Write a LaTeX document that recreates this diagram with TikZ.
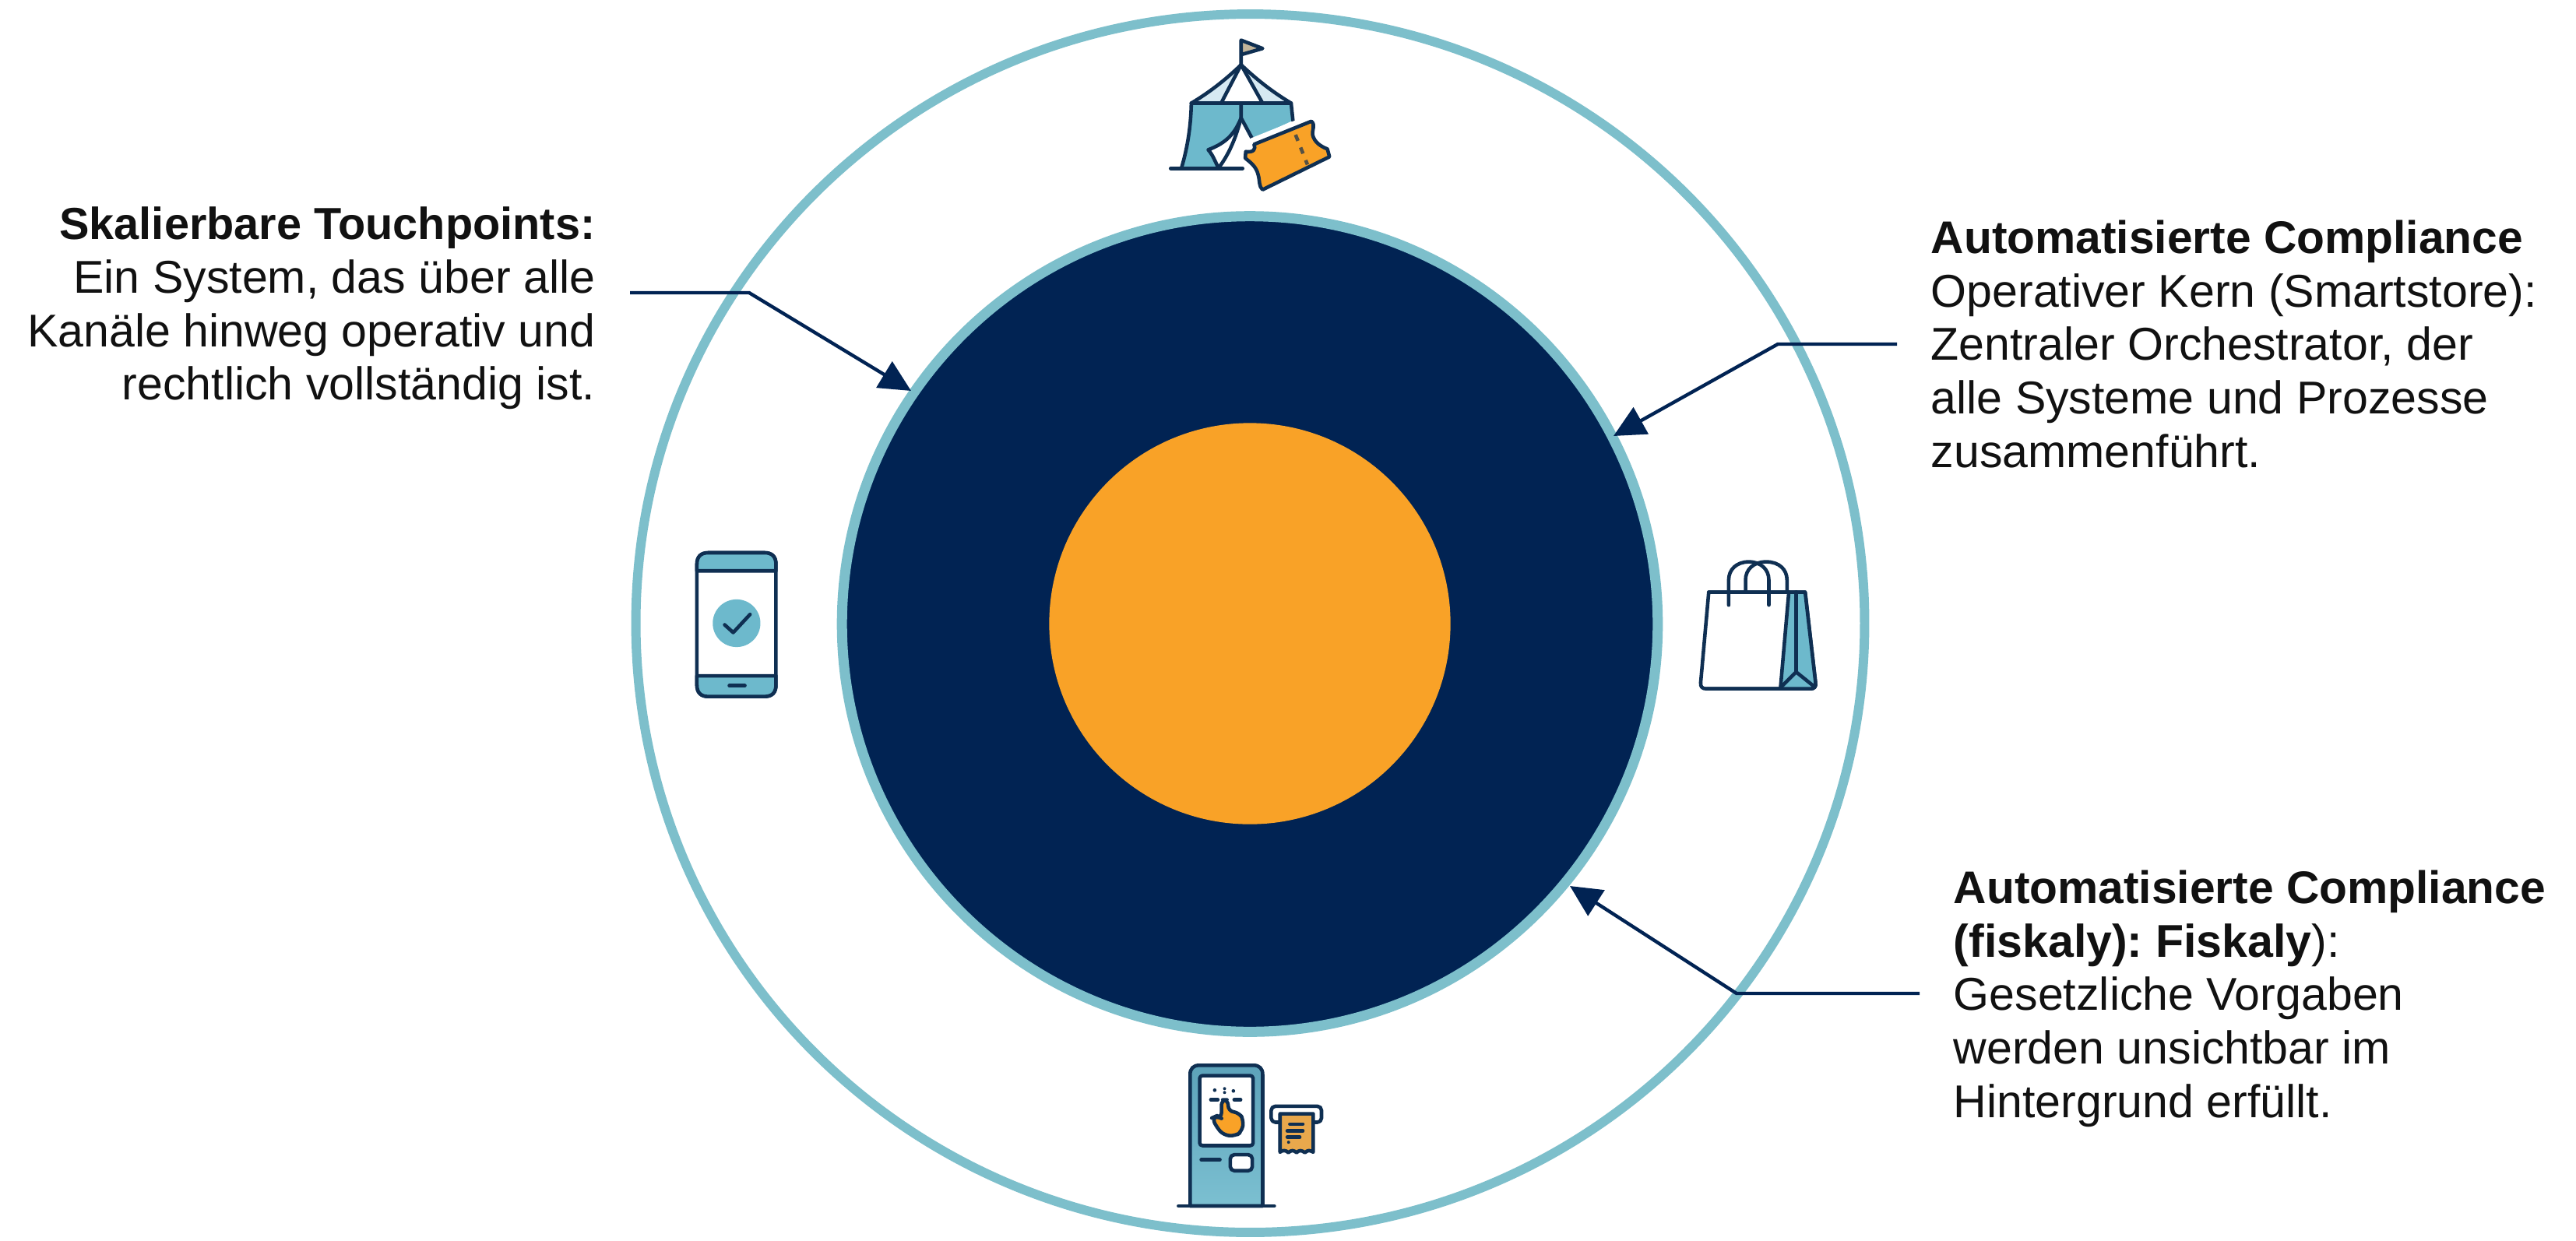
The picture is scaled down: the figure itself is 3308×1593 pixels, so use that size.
\documentclass[tikz,border=0pt]{standalone}
\usepackage{fontspec}
\setmainfont{Liberation Sans}
\usetikzlibrary{arrows.meta,shapes.geometric}
\definecolor{navy}{HTML}{012353}
\definecolor{ringteal}{HTML}{7DBFCB}
\definecolor{coreorange}{HTML}{F9A227}
\definecolor{iconteal}{HTML}{6DB9CC}
\definecolor{iconline}{HTML}{0F2F52}
\definecolor{paleblue}{HTML}{D6E9F2}
\definecolor{flagtan}{HTML}{C2B59B}
\definecolor{receipt}{HTML}{E9A84C}
\definecolor{txt}{HTML}{111111}
\tikzset{
 disc/.style={ellipse,inner sep=0pt},
 callout/.style={inner sep=0pt,text=txt,font=\fontsize{16.8pt}{19.55pt}\selectfont\frenchspacing},
 leader/.style={draw=navy,line width=1.25pt,-{Triangle[length=11.5pt,width=11pt]}},
 ico/.style={draw=iconline,line width=1.3pt,line join=round,line cap=round},
}
\begin{document}
\begin{tikzpicture}[x=0.01cm,y=-0.01cm]
\useasboundingbox (0,0) rectangle (3308,1593);
\fill[white] (0,0) rectangle (3308,1593);
% rings
\node[disc,minimum width=15.77cm,minimum height=15.64cm,draw=ringteal,line width=3.4pt] (outer) at (1605.5,800.5) {};
\node[disc,minimum width=10.47cm,minimum height=10.47cm,fill=navy,draw=ringteal,line width=3.7pt] (inner) at (1605,801.5) {};
\node[disc,minimum width=5.15cm,minimum height=5.15cm,fill=coreorange] (core) at (1605,801) {};
% texts
\node[callout,align=right,anchor=north east] (tl) at (765,265) {{\fontsize{16.4pt}{19.55pt}\selectfont\textbf{Skalierbare Touchpoints:}}\\Ein System, das über alle\\Kanäle hinweg operativ und\\rechtlich vollständig ist.};
\node[callout,align=left,anchor=north west] (tr) at (2479,282) {{\fontsize{16.7pt}{19.55pt}\selectfont\textbf{Automatisierte Compliance}}\\Operativer Kern (Smartstore):\\Zentraler Orchestrator, der\\alle Systeme und Prozesse\\zusammenführt.};
\node[callout,align=left,anchor=north west] (br) at (2508,1117) {{\fontsize{16.7pt}{19.55pt}\selectfont\textbf{Automatisierte Compliance}}\\\textbf{(fiskaly): Fiskaly}):\\Gesetzliche Vorgaben\\werden unsichtbar im\\Hintergrund erfüllt.};
% connectors
\coordinate (a1) at (809,376); \coordinate (a2) at (962,376); \coordinate (a3) at (1170,502);
\coordinate (b1) at (2436,442); \coordinate (b2) at (2283,442); \coordinate (b3) at (2072,560);
\coordinate (c1) at (2465,1276); \coordinate (c2) at (2230,1276); \coordinate (c3) at (2016,1138);
\draw[leader] (a1) -- (a2) -- (a3);
\draw[leader] (b1) -- (b2) -- (b3);
\draw[leader] (c1) -- (c2) -- (c3);
% tent icon
\begin{scope}[shift={(1440,20)},x=0.003333cm,y=-0.003333cm]
\fill[paleblue] (270,338) .. controls (350,290) and (410,240) .. (462,190) -- (385,338) -- cycle;
\fill[paleblue] (655,338) .. controls (575,290) and (515,240) .. (462,190) -- (545,338) -- cycle;
\fill[iconteal] (270,338) -- (462,338) -- (462,395) .. controls (440,450) and (410,490) .. (335,518) -- (375,588) -- (232,588) .. controls (255,510) and (268,430) .. (270,338) -- cycle;
\fill[iconteal] (465,338) -- (655,338) -- (662,405) -- (510,475) -- (465,395) -- cycle;
\fill[flagtan] (462,95) -- (545,127) -- (465,150) -- cycle;
\draw[ico] (462,188) -- (462,95) -- (545,127) -- (465,150);
\draw[ico] (270,338) .. controls (350,290) and (410,240) .. (462,190) .. controls (515,240) and (575,290) .. (655,338);
\draw[ico] (462,190) -- (385,338) (462,190) -- (545,338);
\draw[ico] (270,338) -- (655,338) -- (662,405);
\draw[ico] (270,338) .. controls (268,430) and (255,510) .. (232,588);
\draw[ico] (190,590) -- (468,590);
\draw[ico] (462,340) -- (462,395) -- (505,475);
\draw[ico,fill=white] (462,395) .. controls (440,450) and (410,490) .. (335,518) .. controls (355,540) and (362,565) .. (375,588) .. controls (420,530) and (445,460) .. (462,395) -- cycle;
% ticket
\def\ticketpath{(480,525) .. controls (510,530) and (520,515) .. (512,497) -- (733,408) .. controls (750,420) and (735,445) .. (738,460) .. controls (745,490) and (770,505) .. (795,515) -- (803,545) -- (545,672) .. controls (530,660) and (535,640) .. (528,615) .. controls (520,580) and (495,565) .. (478,550) -- cycle}
\draw[white,line width=5pt,line join=round] \ticketpath;
\draw[ico,fill=coreorange] \ticketpath;
\draw[line width=1.3pt,draw=iconline!70!coreorange,dash pattern=on 2.4pt off 2.6pt] (672,460) -- (718,575);
\end{scope}
% phone icon
\begin{scope}[shift={(860,680)},x=0.003333cm,y=-0.003333cm]
\draw[ico,fill=white] (150,90) -- (365,90) .. controls (395,90) and (410,105) .. (410,135) -- (410,600) .. controls (410,630) and (395,645) .. (365,645) -- (150,645) .. controls (120,645) and (105,630) .. (105,600) -- (105,135) .. controls (105,105) and (120,90) .. (150,90) -- cycle;
\draw[ico,fill=iconteal] (105,160) -- (105,135) .. controls (105,105) and (120,90) .. (150,90) -- (365,90) .. controls (395,90) and (410,105) .. (410,135) -- (410,160) -- cycle;
\draw[ico,fill=iconteal] (105,565) -- (105,600) .. controls (105,630) and (120,645) .. (150,645) -- (365,645) .. controls (395,645) and (410,630) .. (410,600) -- (410,565) -- cycle;
\fill[iconteal] (258,362) circle[radius=92];
\draw[ico] (212,368) -- (245,398) -- (310,328);
\draw[ico] (230,603) -- (290,603);
\end{scope}
% bag icon
\begin{scope}[shift={(2160,690)},x=0.003333cm,y=-0.003333cm]
\draw[ico,fill=white] (103,212) -- (475,212) -- (515,560) .. controls (518,578) and (510,585) .. (495,585) -- (95,585) .. controls (78,585) and (70,578) .. (72,560) -- cycle;
\fill[iconteal] (412,214) -- (473,214) -- (513,562) .. controls (515,575) and (508,583) .. (495,583) -- (382,583) -- cycle;
\draw[ico] (103,212) -- (475,212) -- (515,560) .. controls (518,578) and (510,585) .. (495,585) -- (95,585);
\draw[ico] (412,212) -- (380,580);
\draw[ico] (440,212) -- (440,520);
\draw[ico] (380,580) -- (440,520) -- (512,578);
\draw[ico] (180,262) -- (180,165) .. controls (180,125) and (210,95) .. (258,95) .. controls (305,95) and (335,125) .. (335,165) -- (335,262);
\draw[ico] (245,212) -- (245,165) .. controls (245,125) and (275,95) .. (325,95) .. controls (375,95) and (405,125) .. (405,165) -- (405,212);
\end{scope}
% kiosk icon
\begin{scope}[shift={(1490,1340)},x=0.003333cm,y=-0.003333cm]
\draw[ico,top color=iconteal!85!navy,bottom color=iconteal!90!white] (115,628) -- (115,120) .. controls (115,98) and (128,85) .. (150,85) -- (360,85) .. controls (382,85) and (395,98) .. (395,120) -- (395,628) -- cycle;
\draw[ico,fill=white,rounded corners=1pt] (152,125) rectangle (358,395);
\draw[ico,fill=coreorange,rounded corners=2pt] (236,290) -- (236,218) -- (262,218) -- (262,262) -- (305,268) -- (322,298) -- (315,340) -- (290,358) -- (245,355) -- (218,325) -- (200,288) -- (218,280) -- cycle;
\fill[iconline] (210,181) circle[radius=7] (248,175) circle[radius=6] (248,190) circle[radius=6] (282,184) circle[radius=7];
\draw[ico] (195,218) -- (222,218) (285,218) -- (310,218);
\draw[ico] (158,450) -- (230,450);
\draw[ico,fill=white,rounded corners=1.5pt] (270,430) rectangle (355,492);
\draw[ico] (70,628) -- (440,628);
\draw[ico,fill=white,rounded corners=1.5pt] (428,243) rectangle (622,305);
\draw[ico,fill=receipt] (462,272) -- (590,272) -- (590,420) .. controls (575,412) and (570,412) .. (558,422) .. controls (545,412) and (535,412) .. (526,422) .. controls (515,412) and (505,412) .. (494,422) .. controls (485,412) and (472,412) .. (462,420) -- cycle;
\draw[ico] (500,312) -- (550,312) (490,338) -- (550,338) (490,362) -- (538,362);
\fill[iconline] (495,382) circle[radius=6];
\end{scope}
\end{tikzpicture}
\end{document}
